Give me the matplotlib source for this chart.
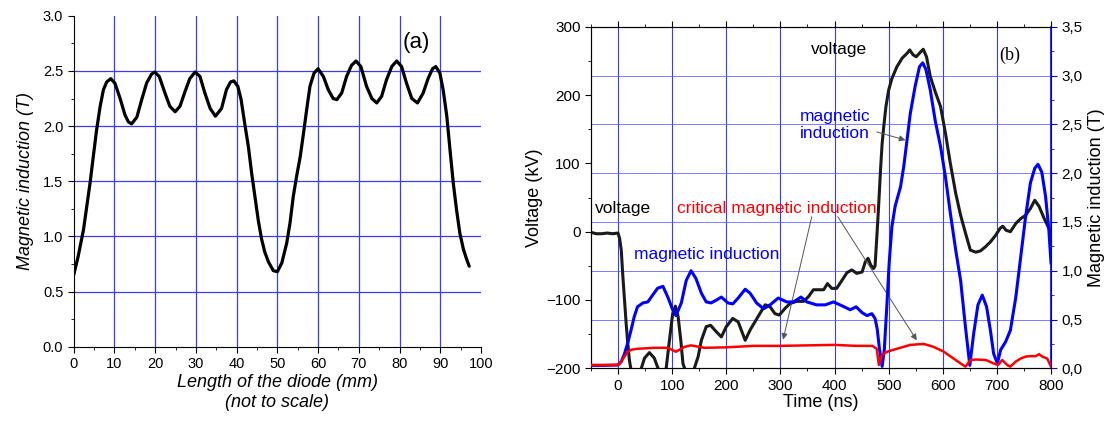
import matplotlib
matplotlib.use("Agg")
import matplotlib.pyplot as plt
from matplotlib.ticker import MultipleLocator, FormatStrFormatter, FuncFormatter

plt.rcParams["font.family"] = "Liberation Sans"

# ---- panel (a): field along the diode ----
diode_x = [0, 1.1, 2.4, 3.2, 4.0, 4.8, 5.6, 6.5, 7.3, 8.1,
           9.1, 10.1, 11.4, 12.6, 13.4, 14.2, 15.5, 16.7, 17.9, 19.1,
           19.9, 21.0, 22.4, 23.6, 24.9, 26.1, 27.3, 28.5, 29.8, 31.0,
           32.2, 33.5, 34.8, 36.3, 37.5, 38.5, 39.3, 40.3, 41.1, 42.0,
           42.9, 43.7, 44.5, 45.3, 46.1, 46.9, 47.8, 49.0, 50.0, 51.1,
           52.3, 53.1, 53.9, 54.7, 55.6, 56.4, 57.2, 58.0, 59.0, 60.0,
           61.3, 62.5, 63.7, 64.6, 65.8, 67.0, 68.2, 69.3, 70.5, 71.9,
           73.2, 74.4, 75.6, 76.8, 78.1, 79.3, 80.5, 81.7, 83.0, 84.4,
           85.8, 87.0, 88.1, 88.9, 89.9, 90.7, 91.6, 92.4, 93.2, 94.0,
           94.8, 95.7, 96.5, 97.1]
diode_b = [0.65, 0.82, 1.06, 1.27, 1.48, 1.72, 1.96, 2.18, 2.33, 2.40,
           2.43, 2.39, 2.25, 2.10, 2.04, 2.02, 2.08, 2.24, 2.39, 2.47,
           2.49, 2.45, 2.30, 2.18, 2.13, 2.18, 2.31, 2.43, 2.49, 2.45,
           2.30, 2.16, 2.09, 2.16, 2.33, 2.40, 2.41, 2.36, 2.24, 2.02,
           1.81, 1.57, 1.36, 1.15, 0.98, 0.86, 0.77, 0.69, 0.68, 0.76,
           0.94, 1.12, 1.36, 1.54, 1.72, 1.93, 2.15, 2.36, 2.48, 2.52,
           2.45, 2.33, 2.25, 2.24, 2.30, 2.45, 2.55, 2.59, 2.54, 2.36,
           2.25, 2.21, 2.27, 2.42, 2.54, 2.59, 2.54, 2.39, 2.25, 2.21,
           2.30, 2.43, 2.52, 2.54, 2.48, 2.33, 2.09, 1.78, 1.48, 1.24,
           1.03, 0.88, 0.79, 0.73]

# ---- panel (b): time traces ----
volt_t = [-50, -40, -30, -20, -10, 0, 3, 6, 9, 12,
          15, 18, 21, 24, 30, 38, 43, 49, 58, 67,
          73, 80, 89, 95, 101, 106, 111, 116, 120, 123,
          132, 141, 148, 154, 163, 171, 181, 191, 200, 212,
          222, 235, 244, 253, 262, 272, 281, 290, 298, 309,
          318, 330, 343, 352, 361, 370, 380, 387, 395, 404,
          414, 423, 432, 441, 451, 457, 462, 467, 472, 475,
          478, 481, 485, 488, 491, 495, 500, 506, 515, 525,
          534, 539, 545, 551, 559, 564, 570, 577, 586, 596,
          605, 614, 624, 633, 642, 651, 661, 670, 679, 688,
          698, 706, 711, 717, 725, 735, 744, 753, 762, 770,
          778, 787, 796, 800]
volt_kv = [-1, -3, -3, -2, -3, -2, -10, -27, -66, -100,
           -134, -163, -188, -202, -220, -215, -200, -185, -177, -185,
           -198, -210, -200, -159, -120, -109, -124, -159, -193, -200,
           -220, -200, -183, -159, -139, -137, -146, -154, -139, -127,
           -132, -159, -144, -132, -120, -107, -110, -120, -122, -112,
           -105, -102, -102, -95, -85, -85, -85, -76, -83, -83,
           -71, -60, -56, -61, -59, -44, -39, -49, -54, -50,
           -10, 30, 90, 129, 154, 183, 207, 224, 241, 254,
           261, 266, 259, 256, 263, 267, 256, 227, 205, 183,
           144, 100, 56, 24, -2, -27, -30, -28, -22, -15,
           -5, 5, 8, 2, 0, 12, 19, 24, 34, 46,
           37, 20, 5, -2]

mag_t = [-50, -25, 0, 6, 12, 18, 24, 30, 36, 46,
         55, 64, 73, 83, 92, 101, 107, 117, 126, 135,
         144, 154, 163, 172, 182, 191, 203, 212, 222, 235,
         244, 256, 269, 281, 296, 312, 324, 338, 349, 367,
         383, 398, 414, 429, 440, 451, 460, 469, 475, 479,
         483, 488, 492, 497, 501, 506, 512, 522, 528, 534,
         540, 549, 557, 563, 569, 577, 586, 596, 605, 614,
         624, 633, 642, 650, 657, 665, 673, 681, 688, 694,
         701, 707, 716, 725, 735, 744, 753, 762, 770, 776,
         783, 790, 796, 800]
mag_b = [0.03, 0.03, 0.034, 0.068, 0.15, 0.26, 0.39, 0.53, 0.63, 0.67,
         0.68, 0.75, 0.82, 0.84, 0.73, 0.60, 0.54, 0.67, 0.90, 1.00,
         0.92, 0.77, 0.68, 0.67, 0.70, 0.73, 0.67, 0.66, 0.72, 0.81,
         0.77, 0.67, 0.61, 0.65, 0.72, 0.68, 0.68, 0.73, 0.68, 0.65,
         0.65, 0.68, 0.64, 0.60, 0.63, 0.57, 0.54, 0.56, 0.51, 0.40,
         0.20, 0.02, 0.19, 0.67, 1.08, 1.45, 1.66, 1.86, 2.07, 2.34,
         2.61, 2.89, 3.09, 3.13, 3.06, 2.85, 2.54, 2.27, 1.96, 1.59,
         1.21, 0.90, 0.42, 0.03, 0.35, 0.65, 0.75, 0.63, 0.39, 0.15,
         0.05, 0.19, 0.27, 0.39, 0.73, 1.14, 1.55, 1.90, 2.05, 2.09,
         2.01, 1.76, 1.42, 1.08]

crit_t = [-50, 0, 6, 12, 18, 24, 36, 67, 92, 107,
          123, 135, 160, 200, 250, 300, 350, 400, 440, 470,
          478, 482, 488, 497, 515, 540, 565, 583, 602, 620,
          633, 642, 651, 662, 680, 694, 702, 710, 719, 725,
          735, 744, 753, 762, 772, 778, 784, 793, 800]
crit_b = [0.034, 0.034, 0.07, 0.12, 0.17, 0.19, 0.20, 0.21, 0.21, 0.17,
          0.22, 0.235, 0.21, 0.215, 0.23, 0.23, 0.235, 0.24, 0.23, 0.23,
          0.2, 0.034, 0.14, 0.17, 0.20, 0.24, 0.25, 0.22, 0.17, 0.10,
          0.05, 0.017, 0.085, 0.09, 0.085, 0.05, 0.034, 0.085, 0.034, 0.017,
          0.07, 0.10, 0.12, 0.125, 0.125, 0.145, 0.12, 0.10, 0.017]

GRID = "#3a3aff"

fig = plt.figure(figsize=(11.15, 4.26), dpi=100)

# ================= (a) =================
ax = fig.add_axes([0.0661, 0.186, 0.3653, 0.777])
for x in range(10, 100, 10):
    ax.axvline(x, color=GRID, lw=0.9, zorder=1)
for y in [0.5, 1.0, 1.5, 2.0, 2.5]:
    ax.axhline(y, color=GRID, lw=0.9, zorder=1)
ax.plot(diode_x, diode_b, color="black", lw=2.3, solid_joinstyle="round",
        solid_capstyle="round", zorder=3)
ax.set_xlim(0, 100)
ax.set_ylim(0, 3.0)
ax.spines["top"].set_visible(False)
ax.spines["right"].set_visible(False)
ax.xaxis.set_major_locator(MultipleLocator(10))
ax.xaxis.set_minor_locator(MultipleLocator(5))
ax.yaxis.set_major_locator(MultipleLocator(0.5))
ax.yaxis.set_minor_locator(MultipleLocator(0.25))
ax.yaxis.set_major_formatter(FormatStrFormatter("%.1f"))
ax.tick_params(which="both", direction="out", labelsize=10.5)
ax.tick_params(which="major", length=4)
ax.tick_params(which="minor", length=2.5)
ax.set_ylabel("Magnetic induction (T)", fontsize=13, style="italic", labelpad=6)
ax.set_xlabel("Length of the diode (mm)\n(not to scale)", fontsize=13, style="italic",
              labelpad=2, linespacing=1.25)
ax.text(80.7, 2.71, "(a)", fontsize=16)

# ================= (b) =================
axv = fig.add_axes([0.530, 0.1354, 0.4126, 0.8019])
axb = axv.twinx()
axv.set_xlim(-50, 800)
axv.set_ylim(-200, 300)
axb.set_ylim(0, 3.5)

for x in range(0, 800, 100):
    axv.axvline(x, color=GRID, lw=0.8, zorder=1)
for b in [0.5, 1.0, 1.5, 2.0, 2.5, 3.0]:
    axv.axhline(-200 + b / 3.5 * 500, color="#5a5aff", lw=0.7, alpha=0.8, zorder=1)

axv.plot(volt_t, volt_kv, color="#1a1a1a", lw=2.2, solid_joinstyle="round", zorder=3)
axb.plot(mag_t, mag_b, color="#0000ff", lw=2.2, solid_joinstyle="round", zorder=3)
axb.plot(crit_t, crit_b, color="#ff0000", lw=1.8, solid_joinstyle="round", zorder=3)

axv.xaxis.set_major_locator(MultipleLocator(100))
axv.xaxis.set_minor_locator(MultipleLocator(50))
axv.yaxis.set_major_locator(MultipleLocator(100))
axv.yaxis.set_minor_locator(MultipleLocator(50))
axv.tick_params(which="both", direction="out", labelsize=11)
axv.tick_params(which="major", length=4)
axv.tick_params(which="minor", length=2.5)
axv.tick_params(axis="x", which="both", top=True)
axb.yaxis.set_major_locator(MultipleLocator(0.5))
axb.yaxis.set_minor_locator(MultipleLocator(0.25))
axb.yaxis.set_major_formatter(FuncFormatter(lambda v, _: f"{v:.1f}".replace(".", ",")))
axb.tick_params(which="both", direction="out", colors="#0000ff", labelsize=11,
                labelcolor="black")
axb.tick_params(which="major", length=4)
axb.tick_params(which="minor", length=2.5)
axb.spines["right"].set_color("#0000ff")
axb.spines["right"].set_linewidth(1.2)
for side in ["top", "bottom", "left"]:
    axv.spines[side].set_color("#333333")

axv.set_xlabel("Time (ns)", fontsize=13, labelpad=1)
axv.set_ylabel("Voltage (kV)", fontsize=13, labelpad=2)
axb.set_ylabel("Magnetic induction (T)", fontsize=13, labelpad=4)

axv.text(-43, 27, "voltage", fontsize=12.5, color="black")
axv.text(357, 260, "voltage", fontsize=12.5, color="black")
axv.text(29, -40, "magnetic induction", fontsize=12.5, color="#0000ff")
axv.text(336, 156, "magnetic\ninduction", fontsize=12.5, color="#0000ff", va="center",
         linespacing=1.2)
axv.text(109, 27, "critical magnetic induction", fontsize=12.5, color="#ff0000")
axv.text(705, 252, "(b)", fontsize=13, family="Liberation Serif")

arrow = dict(arrowstyle="-|>", color="#555555", lw=0.7, mutation_scale=9,
             shrinkA=0, shrinkB=0)
axv.annotate("", xy=(531, 134), xytext=(478, 146), arrowprops=arrow)
axv.annotate("", xy=(305, -158), xytext=(358, 22), arrowprops=arrow)
axv.annotate("", xy=(552, -159), xytext=(406, 22), arrowprops=arrow)

fig.savefig("out.png", dpi=100)
